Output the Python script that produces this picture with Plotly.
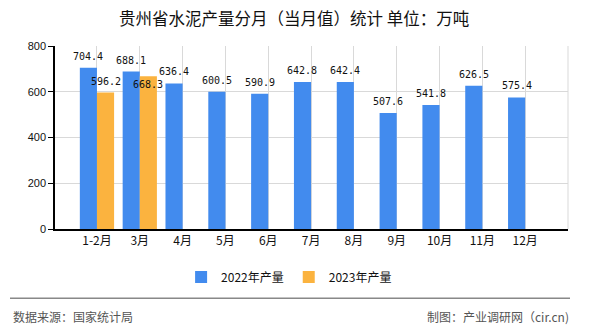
import plotly.graph_objects as go

categories = ["1-2月", "3月", "4月", "5月", "6月", "7月", "8月", "9月", "10月", "11月", "12月"]
values_2022 = [704.4, 688.1, 636.4, 600.5, 590.9, 642.8, 642.4, 507.6, 541.8, 626.5, 575.4]
values_2023 = [596.2, 668.3]
name_2022 = "2022年产量"
name_2023 = "2023年产量"
title_text = "贵州省水泥产量分月（当月值）统计 单位：万吨"
source_text = "数据来源：国家统计局"
credit_text = "制图：产业调研网（cir.cn)"
y_ticks = [0, 200, 400, 600, 800]

BLUE = "#428BEE"
ORANGE = "#FBB33F"
CJK = "Noto Sans CJK SC"
MONO = "DejaVu Sans Mono"

# pixel -> paper helpers (plot area: x 55..568, y 46..229)
def px_x(px):
    return (px - 55) / 513

def px_y(py):
    return (229 - py) / 183

PX_PER_UNIT = 183 / 800

fig = go.Figure()
fig.add_trace(go.Bar(x=categories, y=values_2022, name=name_2022, marker_color=BLUE,
                     marker_line_width=0))
fig.add_trace(go.Bar(x=categories[:len(values_2023)], y=values_2023, name=name_2023,
                     marker_color=ORANGE, marker_line_width=0))

annotations = []
for c, v in zip(categories, values_2022):
    annotations.append(dict(x=c, y=v, xref="x", yref="y", text=f"{v:.1f}", showarrow=False,
                            xshift=-8.6, yshift=4, yanchor="bottom",
                            font=dict(family=MONO, size=10, color="#111111")))
for c, v, v22 in zip(categories, values_2023, values_2022):
    shift = 4
    # label avoidance: push the label down if it would collide with the neighbour label
    if abs(v - v22) * PX_PER_UNIT < 14 and v < v22:
        shift = 4 - 20
    annotations.append(dict(x=c, y=v, xref="x", yref="y", text=f"{v:.1f}", showarrow=False,
                            xshift=8.6, yshift=shift, yanchor="bottom",
                            font=dict(family=MONO, size=10, color="#111111")))

annotations += [
    dict(text=title_text, xref="paper", yref="paper", x=px_x(294), y=px_y(17.7),
         xanchor="center", yanchor="middle", showarrow=False,
         font=dict(family=CJK, size=16.5, color="#111111")),
    dict(text=source_text, xref="paper", yref="paper", x=px_x(11), y=px_y(316),
         xanchor="left", yanchor="middle", showarrow=False,
         font=dict(family=CJK, size=12, color="#555555")),
    dict(text=credit_text, xref="paper", yref="paper", x=px_x(571), y=px_y(316),
         xanchor="right", yanchor="middle", showarrow=False,
         font=dict(family=CJK, size=12, color="#555555")),
]

shapes = [
    dict(type="line", xref="paper", yref="paper", x0=px_x(10), x1=px_x(570),
         y0=px_y(298.3), y1=px_y(298.3), line=dict(color="#888888", width=1.5)),
    dict(type="line", xref="paper", yref="paper", x0=1, x1=1, y0=0, y1=1,
         line=dict(color="#D9D9D9", width=1)),
]

fig.update_layout(
    width=590, height=330,
    margin=dict(l=55, r=22, t=46, b=101),
    paper_bgcolor="white", plot_bgcolor="white",
    barmode="group", bargap=0.2, bargroupgap=0,
    showlegend=True,
    legend=dict(orientation="h", xref="container", yref="container", x=0.49, y=1 - 277 / 330,
                xanchor="center", yanchor="middle", font=dict(family=CJK, size=12, color="#111111"),
                itemwidth=30, tracegroupgap=0),
    annotations=annotations,
    shapes=shapes,
    font=dict(family=CJK, size=12, color="#111111"),
)
fig.update_xaxes(type="category", range=[-0.98, 11], showgrid=True, gridcolor="#D9D9D9",
                 showline=True, linecolor="#000000", linewidth=1.5, ticks="",
                 tickfont=dict(family=CJK, size=12, color="#111111"), fixedrange=True)
fig.update_yaxes(range=[0, 800], tickvals=y_ticks, showgrid=True, gridcolor="#D9D9D9",
                 showline=True, linecolor="#000000", linewidth=1.5, ticks="outside", ticklen=5,
                 tickcolor="#000000", zeroline=False,
                 tickfont=dict(family="Liberation Sans", size=11, color="#111111"), fixedrange=True)

fig.write_html("out.html")
